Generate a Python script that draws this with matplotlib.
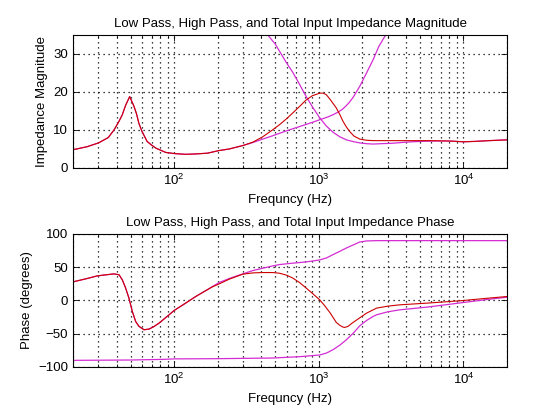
import matplotlib
matplotlib.use("Agg")
import matplotlib.pyplot as plt
from matplotlib.ticker import LogLocator, NullFormatter

plt.rcParams['font.family'] = ['Liberation Sans', 'DejaVu Sans']
plt.rcParams['mathtext.default'] = 'regular'
plt.rcParams['font.size'] = 9.5

# Impedance magnitude (ohms)
lp_mag_f = [20, 25, 30, 35, 38.4, 41.6, 43.8, 46.2, 49.3, 52.8, 55, 57, 60, 65, 70, 75,
            87.5, 100, 120, 141, 170, 205, 240, 298, 350, 409, 481, 600, 736, 900,
            1014, 1150, 1250, 1359, 1450, 1530, 1620, 1727, 1920, 2137, 2374, 2600, 2900, 3100]
lp_mag = [4.8, 5.6, 6.6, 8.0, 10.0, 12.3, 14.0, 16.5, 18.8, 16.2, 14.2, 11.8, 9.6, 7.0, 6.0, 5.2,
          4.1, 3.8, 3.6, 3.7, 3.9, 4.6, 5.0, 5.9, 6.7, 7.6, 8.5, 9.8, 10.9, 12.0,
          12.7, 13.4, 14.0, 14.7, 15.4, 16.2, 17.2, 18.6, 21.5, 25.0, 28.5, 32.0, 35.0, 37.5]

hp_mag_f = [400, 444, 500, 595, 660, 736, 818, 900, 1014, 1130, 1254, 1400, 1553, 1750,
            1920, 2137, 2374, 2700, 3200, 4000, 5000, 6500, 8000, 10000, 12000, 15000, 20000]
hp_mag = [38.0, 35.0, 32.6, 27.8, 25.2, 22.0, 18.8, 16.2, 13.2, 11.0, 9.4, 8.2, 7.4, 6.9,
          6.6, 6.4, 6.3, 6.4, 6.5, 6.8, 7.0, 7.1, 7.1, 6.9, 7.0, 7.2, 7.4]

tot_mag_f = [20, 25, 30, 35, 38.4, 41.6, 43.8, 46.2, 49.3, 52.8, 55, 57, 60, 65, 70, 75,
             87.5, 100, 120, 141, 170, 205, 240, 298, 350, 409, 470, 535, 600, 661, 736,
             812, 900, 1014, 1070, 1127, 1200, 1321, 1400, 1469, 1550, 1636, 1750, 1920,
             2137, 2374, 3000, 4000, 6000, 8000, 10000, 12000, 15000, 20000]
tot_mag = [4.8, 5.6, 6.6, 8.0, 10.0, 12.3, 14.0, 16.5, 18.8, 16.2, 14.2, 11.8, 9.6, 7.0, 6.0, 5.2,
           4.1, 3.8, 3.6, 3.7, 3.9, 4.6, 5.0, 5.9, 6.8, 8.2, 9.8, 11.4, 13.0, 14.5, 16.2,
           17.8, 19.0, 19.7, 19.7, 19.3, 18.0, 15.8, 14.0, 12.3, 10.8, 9.6, 8.4, 7.6,
           7.3, 7.2, 7.2, 7.2, 7.2, 7.1, 6.9, 7.0, 7.2, 7.4]

# Impedance phase (degrees)
lp_ph_f = [20, 25, 29.4, 35, 38.4, 41.6, 43.8, 46.2, 48.7, 51.4, 54.2, 57.2, 61.9, 67.1,
           72.7, 78.7, 86, 92.3, 100, 120, 141, 160, 184, 205, 240, 298, 350, 409, 481,
           535, 650, 736, 850, 1014, 1130, 1254, 1400, 1553, 1750, 1920, 2140, 2500,
           3000, 5000, 10000, 20000]
lp_ph = [28, 33, 37, 39, 40, 38.7, 31.2, 18.7, 3.6, -16.5, -31.6, -39, -44, -43,
         -39, -34, -27, -21.5, -15, -4, 6, 13, 21, 27, 33, 40, 45, 48.5, 52,
         54, 56, 57, 58.5, 61, 64, 69, 74, 79, 84, 88, 89.5, 90,
         90, 90, 90, 90]

hp_ph_f = [20, 50, 85, 100, 200, 481, 736, 1014, 1130, 1254, 1400, 1553, 1750, 1920,
           2140, 2374, 2506, 3000, 3640, 4500, 5570, 7500, 10000, 14000, 20000]
hp_ph = [-90, -89.5, -88.5, -87.8, -87.5, -86.5, -84.5, -82, -79, -74, -67, -59, -48, -38,
         -30, -24, -21.5, -17, -14, -12, -10, -6.5, -3, 1, 5]

tot_ph_f = [20, 25, 29.4, 35, 38.4, 41.6, 43.8, 46.2, 48.7, 51.4, 54.2, 57.2, 61.9, 67.1,
            72.7, 78.7, 86, 92.3, 100, 120, 141, 160, 184, 205, 240, 298, 350, 409, 481,
            535, 600, 661, 736, 818, 900, 1014, 1100, 1200, 1321, 1400, 1469, 1510, 1590,
            1700, 1920, 2140, 2506, 3000, 3640, 5570, 7500, 10000, 14000, 20000]
tot_ph = [28, 33, 37, 39, 40, 38.7, 31.2, 18.7, 3.6, -16.5, -31.6, -39, -44, -43,
          -39, -34, -27, -21.5, -15, -4, 6, 13, 20.5, 25, 32, 39.5, 41.5, 42, 42,
          41, 38, 33.7, 27, 18.7, 11, 1, -8, -19, -33, -37.5, -40, -40.5, -39,
          -34, -26, -19, -11.5, -8.5, -6.5, -4, -2, 0, 3, 6]

RED = '#CC0000'
MAG = '#D42CD4'


def style_axes(ax, yticks, ylim):
    ax.set_xscale('log')
    ax.set_xlim(20, 20000)
    ax.set_ylim(*ylim)
    ax.set_yticks(yticks)
    ax.xaxis.set_major_locator(LogLocator(base=10, numticks=10))
    ax.xaxis.set_minor_locator(LogLocator(base=10, subs=range(2, 10), numticks=10))
    ax.xaxis.set_minor_formatter(NullFormatter())
    ax.grid(True, which='both', axis='x', color='black', linestyle=(0, (1, 3)), linewidth=0.9)
    ax.grid(True, which='major', axis='y', color='black', linestyle=(0, (1, 3)), linewidth=0.9)
    ax.tick_params(which='both', direction='in', top=True, right=True, width=0.6)
    ax.tick_params(which='major', length=4)
    ax.tick_params(which='minor', length=2)
    for s in ax.spines.values():
        s.set_linewidth(0.8)
    ax.set_axisbelow(True)


fig = plt.figure(figsize=(5.6, 4.2), dpi=100)
ax1 = fig.add_axes([0.1304, 0.6, 0.775, 0.3167])
ax2 = fig.add_axes([0.1304, 0.1262, 0.775, 0.3167])

ax1.plot(lp_mag_f, lp_mag, color=MAG, linewidth=0.9)
ax1.plot(hp_mag_f, hp_mag, color=MAG, linewidth=0.9)
ax1.plot(tot_mag_f, tot_mag, color=RED, linewidth=0.8)
style_axes(ax1, [0, 10, 20, 30], (0, 35))
ax1.set_title('Low Pass, High Pass, and Total Input Impedance Magnitude', fontsize=9.5, pad=6)
ax1.set_xlabel('Frequncy (Hz)')
ax1.set_ylabel('Impedance Magnitude')

ax2.plot(lp_ph_f, lp_ph, color=MAG, linewidth=0.9)
ax2.plot(hp_ph_f, hp_ph, color=MAG, linewidth=0.9)
ax2.plot(tot_ph_f, tot_ph, color=RED, linewidth=0.8)
style_axes(ax2, [-100, -50, 0, 50, 100], (-100, 100))
ax2.set_title('Low Pass, High Pass, and Total Input Impedance Phase', fontsize=9.5, pad=6)
ax2.set_xlabel('Frequncy (Hz)')
ax2.set_ylabel('Phase (degrees)')

fig.savefig('out.png', dpi=100)
